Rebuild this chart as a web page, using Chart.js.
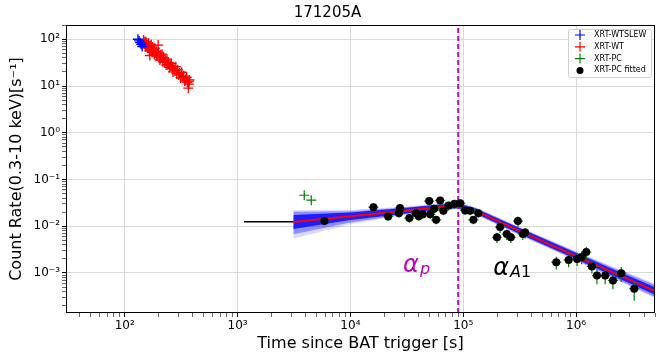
<!DOCTYPE html>
<html>
<head>
<meta charset="utf-8">
<script src="https://cdn.jsdelivr.net/npm/chart.js@4.4.1/dist/chart.umd.min.js"></script>
<style>
  html, body { margin: 0; padding: 0; background: #fff; }
</style>
</head>
<body>
<canvas id="chart" width="664" height="358"></canvas>
<script>
// XRT-WTSLEW
const slewTime = [131, 134, 137, 140, 143];
const slewRate = [100, 92, 85, 78, 70];

// XRT-WT
const wtTime = [147, 149, 151, 152, 154, 156, 157, 159, 161, 163, 164, 166, 167, 168, 170, 172, 174, 176, 178, 180,
                183, 185, 188, 190, 193, 196, 198, 199, 202, 205, 208, 211, 214, 218, 221, 225, 229, 233, 237, 241,
                245, 250, 254, 259, 263, 268, 273, 278, 284, 289, 295, 301, 307, 313, 320, 326, 333, 340, 347, 354,
                360, 366, 370, 372, 375];
const wtRate = [96, 78, 88, 70, 88, 74, 83, 66, 73, 82, 65, 56, 45, 73, 63, 76, 54, 68, 53, 60,
                47, 64, 50, 55, 44, 48, 75, 53, 41, 36, 46, 40, 48, 33, 41, 32, 36, 28, 37.5, 29,
                32, 25, 27.4, 30, 23.4, 20, 25.9, 21.9, 25.9, 18.1, 22.3, 17.1, 19.1, 14.9, 19.7, 15.2, 16.5, 12.8, 14, 15.4,
                12, 9, 11, 12.7, 13.5];

// XRT-PC, not used in the fit
const pcTime = [3900, 4500];
const pcRate = [0.046, 0.036];

// XRT-PC fitted
const pcFitTime = [5890, 16000, 21600, 26900, 27500, 33300, 38000, 40300, 43800, 49900, 51000, 55200, 57500, 62400,
                   66700, 74000, 83600, 94000, 104000, 115000, 123000, 136000, 199000, 212000, 243000, 264000, 305000,
                   337000, 354000, 667000, 858000, 1.02e6, 1.12e6, 1.23e6, 1.38e6, 1.53e6, 1.81e6, 2.12e6, 2.51e6, 3.27e6];
const pcFitRate = [0.0129, 0.0256, 0.0162, 0.019, 0.0244, 0.0149, 0.019, 0.0163, 0.018, 0.0345, 0.018, 0.0237, 0.0137, 0.0357,
                   0.0215, 0.0279, 0.0301, 0.0311, 0.0218, 0.0215, 0.0137, 0.019, 0.0058, 0.0096, 0.0068, 0.0058, 0.0129,
                   0.0068, 0.0073, 0.0017, 0.0019, 0.0020, 0.0022, 0.0028, 0.00138, 0.00088, 0.00088, 0.00069, 0.00099, 0.00046];
const pcFitErr = [0.2, 0.2, 0.2, 0.2, 0.2, 0.2, 0.2, 0.2, 0.2, 0.2, 0.2, 0.2, 0.2, 0.2,
                  0.2, 0.2, 0.2, 0.2, 0.2, 0.2, 0.2, 0.2, 0.25, 0.25, 0.25, 0.25, 0.25,
                  0.25, 0.25, 0.3, 0.3, 0.3, 0.3, 0.3, 0.3, 0.35, 0.35, 0.35, 0.35, 0.45];

// constant segment before the fit
const preFitTime = [1140, 3120];
const preFitRate = [0.0125, 0.0125];

// best fit and posterior envelopes
const fitTime = [3120, 1e4, 3e4, 6e4, 9e4, 1.3e5, 3e5, 1e6, 2e6, 5e6];
const fitRate = [0.0123, 0.0163, 0.0213, 0.0255, 0.0275, 0.021, 0.00834, 0.0023, 0.00109, 0.00041];
const innerHi = [0.01738, 0.01959, 0.02443, 0.02864, 0.03083, 0.02355, 0.00957, 0.002673, 0.001279, 0.000493];
const innerLo = [0.00871, 0.01355, 0.01854, 0.02275, 0.02449, 0.01871, 0.00726, 0.001982, 0.000927, 0.000341];
const midHi = [0.02042, 0.02099, 0.02529, 0.02965, 0.03192, 0.02438, 0.00991, 0.002799, 0.001371, 0.000553];
const midLo = [0.00676, 0.01208, 0.01791, 0.02198, 0.02366, 0.01807, 0.00702, 0.001892, 0.000865, 0.000304];
const outerHi = [0.02188, 0.02249, 0.02618, 0.03069, 0.03304, 0.02523, 0.01026, 0.002897, 0.001435, 0.000593];
const outerLo = [0.00537, 0.01102, 0.0173, 0.02123, 0.02286, 0.01746, 0.00678, 0.001828, 0.000826, 0.000284];

const tBreak = 9.03e4;

// axes
const xMin = 30.2, xMax = 5.0e6;
const yMin = 1.39e-4, yMax = 202;

const MAGENTA = '#bf00bf';
const GREEN = '#008000';

const pts = (xs, ys) => xs.map((x, i) => ({ x, y: ys[i] }));

const isMajor = v => Math.abs(Math.log10(v) - Math.round(Math.log10(v))) < 1e-6;
const sup = { '-': '⁻', '0': '⁰', '1': '¹', '2': '²', '3': '³', '4': '⁴', '5': '⁵', '6': '⁶', '7': '⁷', '8': '⁸', '9': '⁹' };
const powLabel = v => '10' + String(Math.round(Math.log10(v))).split('').map(c => sup[c]).join('');

function logTicks(min, max) {
  const out = [];
  for (let e = Math.floor(Math.log10(min)); e <= Math.ceil(Math.log10(max)); e++) {
    for (let m = 1; m <= 9; m++) {
      const v = m * Math.pow(10, e);
      if (v >= min && v <= max) out.push({ value: v });
    }
  }
  return out;
}

const band = (hi, lo, color, order) => [
  { data: pts(fitTime, hi), borderWidth: 0, pointRadius: 0, fill: false, order },
  { data: pts(fitTime, lo), borderWidth: 0, pointRadius: 0, fill: '-1', backgroundColor: color, order }
];

const datasets = [
  ...band(outerHi, outerLo, 'rgba(0,0,255,0.15)', 12),
  ...band(midHi, midLo, 'rgba(0,0,255,0.35)', 11),
  ...band(innerHi, innerLo, 'rgba(0,0,255,0.8)', 10),
  { data: pts(preFitTime, preFitRate), borderColor: '#000', borderWidth: 1.5, pointRadius: 0, order: 8 },
  { data: pts(fitTime, fitRate), borderColor: '#ff0000', borderWidth: 2, pointRadius: 0, order: 7 },
  { data: [{ x: tBreak, y: yMin }, { x: tBreak, y: yMax }], borderColor: MAGENTA, borderWidth: 2,
    borderDash: [5, 3], pointRadius: 0, order: 6 },
  { label: 'XRT-WTSLEW', data: pts(slewTime, slewRate), showLine: false, pointStyle: 'cross',
    pointRadius: 5, borderColor: '#0000ff', borderWidth: 1.3, order: 4 },
  { label: 'XRT-WT', data: pts(wtTime, wtRate), showLine: false, pointStyle: 'cross',
    pointRadius: 5, borderColor: '#ff0000', borderWidth: 1.3, order: 5 },
  { label: 'XRT-PC', data: pts(pcTime, pcRate), showLine: false, pointStyle: 'cross',
    pointRadius: 5, borderColor: GREEN, borderWidth: 1.2, order: 3 },
  { label: 'XRT-PC fitted', data: pts(pcFitTime, pcFitRate), showLine: false, pointStyle: 'circle',
    pointRadius: 4, backgroundColor: '#000', borderColor: '#000', borderWidth: 0, order: 1, errY: pcFitErr }
];

// green error bars under the fitted points
const errorBars = {
  id: 'errorBars',
  beforeDatasetDraw(chart, args) {
    const ds = chart.data.datasets[args.index];
    if (!ds.errY) return;
    const { ctx, scales: { x, y }, chartArea: a } = chart;
    ctx.save();
    ctx.beginPath();
    ctx.rect(a.left, a.top, a.width, a.height);
    ctx.clip();
    ctx.strokeStyle = GREEN;
    ctx.lineWidth = 1.2;
    ds.data.forEach((p, i) => {
      const e = ds.errY[i];
      const px = x.getPixelForValue(p.x), py = y.getPixelForValue(p.y);
      ctx.beginPath();
      ctx.moveTo(px, y.getPixelForValue(p.y * (1 + e)));
      ctx.lineTo(px, y.getPixelForValue(p.y * (1 - e)));
      ctx.moveTo(px - 5, py);
      ctx.lineTo(px + 5, py);
      ctx.stroke();
    });
    ctx.restore();
  }
};

// alpha labels
const labels = [
  { t: 2.93e4, v: 1.03e-3, main: 'α', sub: [['p', 'italic']], color: MAGENTA },
  { t: 1.84e5, v: 8.85e-4, main: 'α', sub: [['A', 'italic'], ['1', 'normal']], color: '#000' }
];
const annotations = {
  id: 'annotations',
  afterDatasetsDraw(chart) {
    const { ctx, scales: { x, y } } = chart;
    ctx.save();
    ctx.textBaseline = 'alphabetic';
    labels.forEach(l => {
      let px = x.getPixelForValue(l.t);
      const py = y.getPixelForValue(l.v);
      ctx.fillStyle = l.color;
      ctx.font = 'italic 24px "DejaVu Sans"';
      ctx.fillText(l.main, px, py);
      px += ctx.measureText(l.main).width + 1;
      l.sub.forEach(([s, style]) => {
        ctx.font = style + ' 16px "DejaVu Sans"';
        ctx.fillText(s, px, py + 2);
        px += ctx.measureText(s).width;
      });
    });
    // frame
    const a = chart.chartArea;
    ctx.strokeStyle = '#000';
    ctx.lineWidth = 1;
    ctx.strokeRect(Math.round(a.left) + 0.5, Math.round(a.top) + 0.5,
                   Math.round(a.width) - 1, Math.round(a.height) - 1);
    ctx.restore();
  }
};

// legend box in the upper right corner
const legendBox = {
  id: 'legendBox',
  afterDraw(chart) {
    const { ctx } = chart;
    const items = chart.data.datasets.filter(d => d.label);
    const bx = 568, by = 29, bw = 83, bh = 48;
    ctx.save();
    ctx.fillStyle = 'rgba(255,255,255,0.85)';
    ctx.strokeStyle = '#d0d0d0';
    ctx.lineWidth = 1;
    ctx.beginPath();
    ctx.roundRect(bx + 0.5, by + 0.5, bw, bh, 2);
    ctx.fill();
    ctx.stroke();
    ctx.font = '8px "DejaVu Sans"';
    ctx.textBaseline = 'middle';
    items.forEach((d, i) => {
      const yy = by + 6 + i * 11.8;
      const mx = 580;
      if (d.pointStyle === 'cross') {
        ctx.strokeStyle = d.borderColor;
        ctx.lineWidth = 1.2;
        ctx.beginPath();
        ctx.moveTo(mx - 5, yy); ctx.lineTo(mx + 5, yy);
        ctx.moveTo(mx, yy - 5); ctx.lineTo(mx, yy + 5);
        ctx.stroke();
      } else {
        ctx.fillStyle = '#000';
        ctx.beginPath();
        ctx.arc(mx, yy, 3.5, 0, Math.PI * 2);
        ctx.fill();
      }
      ctx.fillStyle = '#000';
      ctx.fillText(d.label, 594, yy);
    });
    ctx.restore();
  }
};

const gridColor = ctx => (ctx.tick && isMajor(ctx.tick.value)) ? '#d9d9d9' : 'rgba(0,0,0,0)';
const tickWidth = ctx => (ctx.tick && isMajor(ctx.tick.value)) ? 1 : 0.6;
const tickFont = { family: 'DejaVu Sans', size: 12 };
const titleFont = { family: 'DejaVu Sans', size: 16 };

new Chart(document.getElementById('chart'), {
  type: 'line',
  data: { datasets },
  options: {
    responsive: false,
    animation: false,
    devicePixelRatio: 1,
    layout: { padding: { top: 0, right: 9, bottom: 0, left: 0 } },
    plugins: {
      legend: { display: false },
      tooltip: { enabled: false },
      title: {
        display: true,
        text: '171205A',
        color: '#000',
        font: { family: 'DejaVu Sans', size: 15, weight: 'normal' },
        padding: { top: 4, bottom: 3 }
      }
    },
    scales: {
      x: {
        type: 'logarithmic',
        min: xMin,
        max: xMax,
        afterBuildTicks: s => { s.ticks = logTicks(xMin, xMax); },
        afterFit: s => { s.height = 45; },
        border: { display: false },
        grid: { color: gridColor, tickColor: '#000', tickWidth, tickLength: 4 },
        ticks: {
          autoSkip: false, maxRotation: 0, padding: 2, color: '#000', font: tickFont,
          callback: v => isMajor(v) ? powLabel(v) : ''
        },
        title: {
          display: true, text: 'Time since BAT trigger [s]', color: '#000', font: titleFont,
          padding: { top: 0, bottom: 5 }
        }
      },
      y: {
        type: 'logarithmic',
        min: yMin,
        max: yMax,
        afterBuildTicks: s => { s.ticks = logTicks(yMin, yMax); },
        afterFit: s => { s.width = 66; },
        border: { display: false },
        grid: { color: gridColor, tickColor: '#000', tickWidth, tickLength: 4 },
        ticks: {
          autoSkip: false, padding: 2, color: '#000', font: tickFont,
          callback: v => isMajor(v) ? powLabel(v) : ''
        },
        title: {
          display: true, text: 'Count Rate(0.3-10 keV)[s⁻¹]', color: '#000', font: titleFont,
          padding: { top: 7, bottom: 0 }
        }
      }
    }
  },
  plugins: [errorBars, annotations, legendBox]
});
</script>
</body>
</html>
